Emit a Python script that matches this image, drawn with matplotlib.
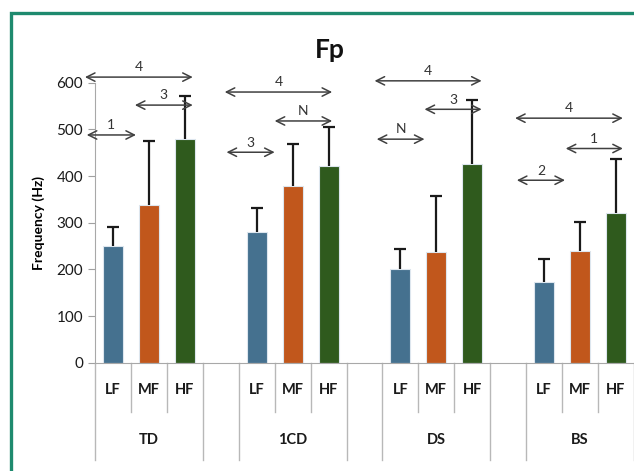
import matplotlib.pyplot as plt
from matplotlib.patches import Rectangle
import numpy as np

plt.rcParams['font.family'] = ['Lato', 'DejaVu Sans']

groups = ['TD', '1CD', 'DS', 'BS']
subs = ['LF', 'MF', 'HF']
colors = ['#45718f', '#c1571c', '#2f5a1d']

lf = [250, 281, 200, 174]
mf = [338, 378, 237, 239]
hf = [479, 421, 426, 320]
lf_err = [41, 50, 44, 49]
mf_err = [137, 90, 120, 62]
hf_err = [93, 83, 138, 116]

# significance arrows: label, start, end (category slot units), height
ann_labels = ['4', '1', '3', '4', '3', 'N', '4', 'N', '3', '4', '2', '1']
ann_x0 = [-0.78, -0.73, 0.61, 3.11, 3.16, 4.5, 7.28, 7.34, 8.67, 11.19, 11.24, 12.6]
ann_x1 = [2.22, 0.64, 2.22, 6.1, 4.5, 6.1, 10.26, 8.67, 10.26, 14.19, 12.58, 14.19]
ann_y = [612, 488, 552, 580, 451, 518, 604, 479, 543, 524, 391, 459]

fig = plt.figure(figsize=(6.34, 4.71), dpi=100)
ax = fig.add_axes([95/634, 1 - 362.7/471, 539/634, 280/471])

series = [lf, mf, hf]
errs = [lf_err, mf_err, hf_err]
for s in range(3):
    xs = np.arange(len(groups)) * 4 + s
    ax.bar(xs, series[s], width=0.56, color=colors[s], edgecolor='#dde6ee',
           linewidth=0.8, zorder=2)
    eb = ax.errorbar(xs, series[s], yerr=[np.zeros(len(groups)), errs[s]],
                     fmt='none', ecolor='#1a1a1a', elinewidth=1.6, capsize=4,
                     capthick=1.6, zorder=3)
    eb[1][0].set_visible(False)  # no cap at the bar top

for lab, x0, x1, y in zip(ann_labels, ann_x0, ann_x1, ann_y):
    ax.annotate('', xy=(x0, y), xytext=(x1, y), annotation_clip=False,
                arrowprops=dict(arrowstyle='<->,head_length=0.6,head_width=0.3',
                                color='#404040', lw=1.1, shrinkA=0, shrinkB=0))
    ax.annotate(lab, xy=((x0 + x1) / 2, y), xytext=(0, 7), textcoords='offset points',
                ha='center', va='center', fontsize=10, color='#333333',
                annotation_clip=False)

ax.set_xlim(-0.5, 14.5)
ax.set_ylim(0, 600)
ax.set_yticks(range(0, 601, 100))
ax.tick_params(axis='y', labelsize=11, length=5, color='#a0a0a0', labelcolor='#1a1a1a')
ax.set_xticks([])
for sp in ['top', 'right']:
    ax.spines[sp].set_visible(False)
ax.spines['left'].set_color('#a8a8a8')
ax.spines['bottom'].set_color('#a8a8a8')
ax.set_ylabel('Frequency (Hz)', fontsize=10, fontweight='bold', labelpad=8)

# multi-level category axis
tr = ax.get_xaxis_transform()
for k in range(16):
    b = k - 0.5
    long_line = (k % 4 == 0) or (k % 4 == 3)
    y_end = -0.346 if long_line else -0.176
    ax.plot([b, b], [0, y_end], transform=tr, color='#b8b8b8', lw=1.0, clip_on=False)
for g, name in enumerate(groups):
    for s, sub in enumerate(subs):
        ax.text(g * 4 + s, -0.097, sub, transform=tr, ha='center', va='center',
                fontsize=10.5, fontweight='bold', color='#1a1a1a')
    ax.text(g * 4 + 1, -0.276, name, transform=tr, ha='center', va='center',
            fontsize=10.5, fontweight='bold', color='#1a1a1a')

fig.text(330/634, 1 - 50/471, 'Fp', ha='center', va='center', fontsize=19,
         fontweight='bold', color='#111111')

fig.patches.append(Rectangle((11/634, -0.1), 1.2, 1 - 13/471 + 0.1,
                             transform=fig.transFigure, fill=False,
                             edgecolor='#1e8a6e', lw=2.4))

fig.savefig('out.png', dpi=100)
